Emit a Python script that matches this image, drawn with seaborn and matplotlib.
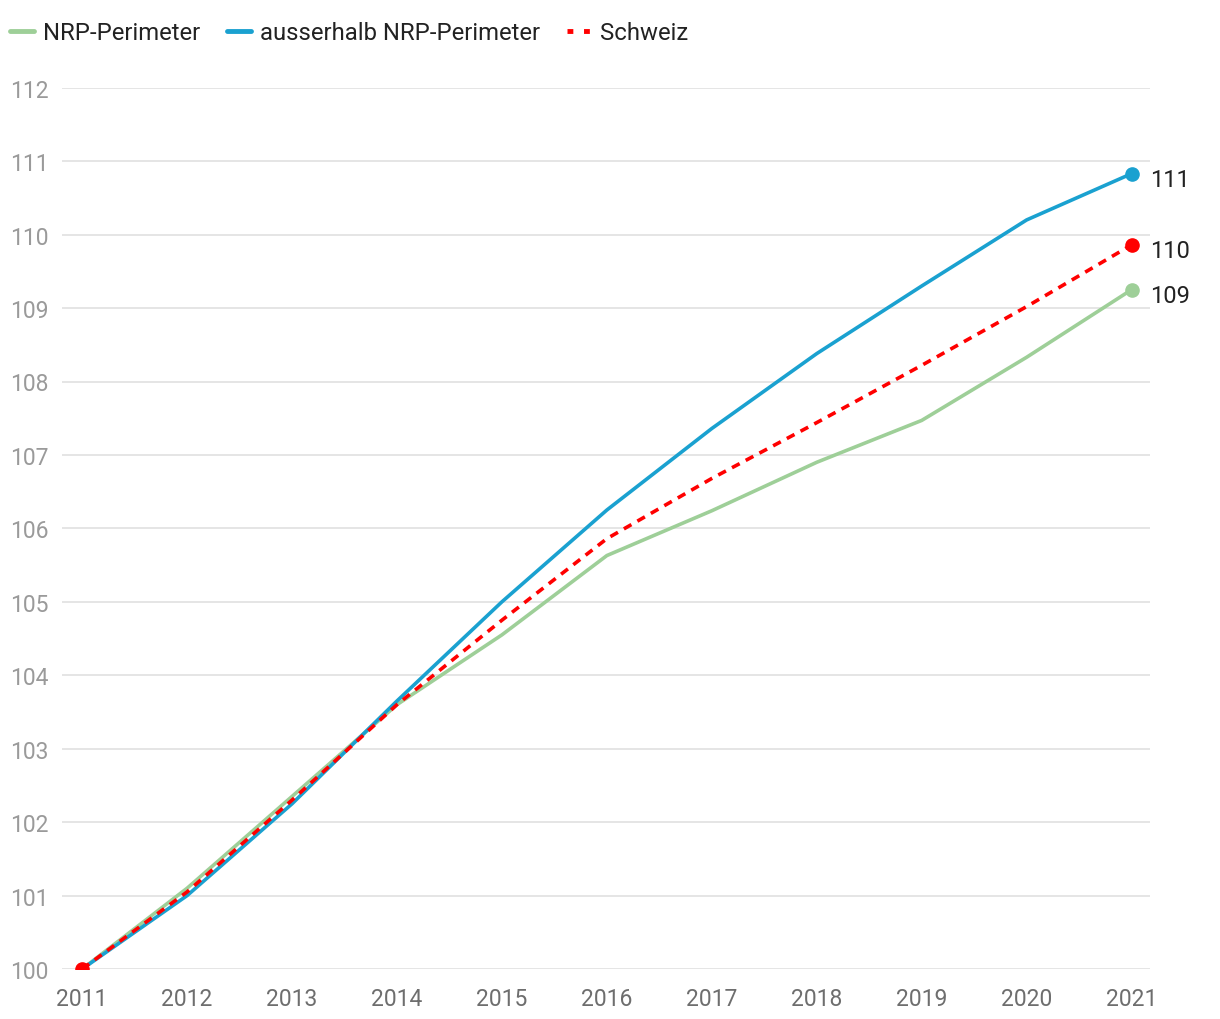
import matplotlib
matplotlib.use("Agg")
from matplotlib import pyplot as plt
import seaborn as sns
import pandas as pd

years = list(range(2011, 2022))
nrp = [100, 101.1, 102.35, 103.6, 104.55, 105.63, 106.24, 106.9, 107.47, 108.33, 109.25]
ausserhalb = [100, 101.0, 102.25, 103.65, 105.0, 106.25, 107.36, 108.38, 109.3, 110.2, 110.83]
schweiz = [100, 101.05, 102.3, 103.6, 104.75, 105.86, 106.68, 107.44, 108.22, 109.02, 109.86]

labels = ["NRP-Perimeter", "ausserhalb NRP-Perimeter", "Schweiz"]
colors = ["#9ecf98", "#1aa1d0", "#ff0000"]
end_labels = ["109", "111", "110"]

df = pd.DataFrame({"Jahr": years, labels[0]: nrp, labels[1]: ausserhalb, labels[2]: schweiz})
long = df.melt(id_vars="Jahr", var_name="Serie", value_name="Index")

sns.set_style("white")
plt.rcParams["font.family"] = ["Roboto", "DejaVu Sans"]

fig = plt.figure(figsize=(12.2, 10.2), dpi=100)
ax = fig.add_axes([0.051, 0.049, 0.892, 0.864])

sns.lineplot(data=long, x="Jahr", y="Index", hue="Serie", style="Serie",
             palette=dict(zip(labels, colors)),
             dashes={labels[0]: "", labels[1]: "", labels[2]: (2.4, 1.9)},
             linewidth=2.6, ax=ax, legend=False)

# end markers and labels
for lab, col, txt in zip(labels, colors, end_labels):
    y_end = df[lab].iloc[-1]
    ax.plot(df["Jahr"].iloc[-1], y_end, "o", color=col, markersize=9.5, zorder=5)
    ax.annotate(txt, (df["Jahr"].iloc[-1], y_end), xytext=(13, -4), textcoords="offset points",
                va="center", ha="left", fontsize=17, color="#222222", annotation_clip=False)
ax.plot(years[0], schweiz[0], "o", color=colors[2], markersize=9.5, zorder=6)

ax.set_xlim(2010.81, 2021.18)
ax.set_ylim(100, 112)
ax.set_yticks(range(100, 113))
ax.set_xticks(years)
ax.grid(axis="y", color="#e3e3e3", linewidth=1.3)
ax.set_axisbelow(True)
ax.tick_params(axis="y", labelsize=16.5, labelcolor="#9a9a9a", length=0, pad=10)
ax.tick_params(axis="x", labelsize=16.5, labelcolor="#6e6e6e", length=0, pad=13)
ax.set_xlabel("")
ax.set_ylabel("")
sns.despine(ax=ax, left=True, bottom=True, top=True, right=True)

handles = [plt.Line2D([], [], color=colors[0], linewidth=3.5),
           plt.Line2D([], [], color=colors[1], linewidth=3.5),
           plt.Line2D([], [], color=colors[2], linewidth=3.5, dashes=(1.2, 2.2))]
fig.legend(handles, labels, loc="center left", bbox_to_anchor=(0.008, 0.967), ncol=3,
           frameon=False, fontsize=17.2, handlelength=1.0, handletextpad=0.4, columnspacing=1.1,
           borderaxespad=0, borderpad=0, labelcolor="#222222")

fig.savefig("out.png", dpi=100)
